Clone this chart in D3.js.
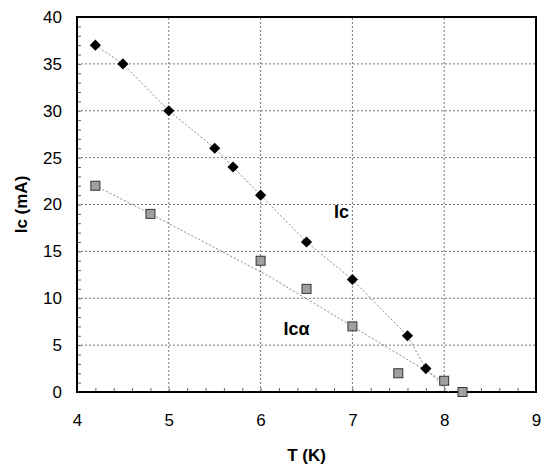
<!DOCTYPE html>
<html>
<head>
<meta charset="utf-8">
<script src="https://cdn.jsdelivr.net/npm/d3@7"></script>
<style>
  body { margin: 0; background: #fff; }
  svg { font-family: "Liberation Sans", Arial, sans-serif; }
</style>
</head>
<body>
<div id="chart"></div>
<script>
// Ic data (black diamonds)
const icT = [4.2, 4.5, 5, 5.5, 5.7, 6, 6.5, 7, 7.6, 7.8]
const icVal = [37, 35, 30, 26, 24, 21, 16, 12, 6, 2.5]
// Ic-alpha data (gray squares)
const icaT = [4.2, 4.8, 6, 6.5, 7, 7.5, 8, 8.2]
const icaVal = [22, 19, 14, 11, 7, 2, 1.2, 0]
// dotted guide lines, vertices
const icTrend = [[4.2, 37], [4.5, 35], [5, 30], [5.5, 26], [5.7, 24], [6, 21], [6.5, 16], [7, 12], [7.6, 6], [7.8, 2.5], [8.05, 0]]
const icaTrend = [[4.2, 22], [4.8, 19], [6.1, 12.3], [7, 7], [8.05, 0.8]]
const xTicks = [4, 5, 6, 7, 8, 9]
const yTicks = [0, 5, 10, 15, 20, 25, 30, 35, 40]

const width = 542, height = 468
const margin = { top: 17, right: 6, bottom: 76, left: 77 }

const svg = d3.select("#chart").append("svg")
    .attr("width", width)
    .attr("height", height)

const x = d3.scaleLinear().domain([4, 9]).range([margin.left, width - margin.right])
const y = d3.scaleLinear().domain([0, 40]).range([height - margin.bottom, margin.top])

// grid
svg.append("g")
    .selectAll("line")
    .data(xTicks.slice(1, -1))
    .join("line")
    .attr("x1", d => x(d)).attr("x2", d => x(d))
    .attr("y1", y(0)).attr("y2", y(40))
    .attr("stroke", "#777").attr("stroke-width", 1)
    .attr("stroke-dasharray", "2,2")
svg.append("g")
    .selectAll("line")
    .data(yTicks.slice(1, -1))
    .join("line")
    .attr("x1", x(4)).attr("x2", x(9))
    .attr("y1", d => y(d)).attr("y2", d => y(d))
    .attr("stroke", "#777").attr("stroke-width", 1)
    .attr("stroke-dasharray", "2,2")

// minor ticks inside
svg.append("g")
    .attr("transform", `translate(0,${y(0)})`)
    .call(d3.axisTop(x).ticks(25).tickSize(4).tickFormat(""))
    .call(g => g.select(".domain").remove())
    .call(g => g.selectAll(".tick line").attr("stroke", "#666"))
svg.append("g")
    .attr("transform", `translate(${x(4)},0)`)
    .call(d3.axisRight(y).ticks(40).tickSize(4).tickFormat(""))
    .call(g => g.select(".domain").remove())
    .call(g => g.selectAll(".tick line").attr("stroke", "#666"))

// tick labels
svg.append("g")
    .attr("transform", `translate(0,${y(0)})`)
    .call(d3.axisBottom(x).tickValues(xTicks).tickFormat(d3.format("d")).tickSize(0).tickPadding(22))
    .call(g => g.select(".domain").remove())
    .call(g => g.selectAll("text").attr("font-size", 17).attr("font-family", "Liberation Sans, Arial").attr("fill", "#000"))
svg.append("g")
    .attr("transform", `translate(${x(4)},0)`)
    .call(d3.axisLeft(y).tickValues(yTicks).tickFormat(d3.format("d")).tickSize(0).tickPadding(15))
    .call(g => g.select(".domain").remove())
    .call(g => g.selectAll("text").attr("font-size", 17).attr("font-family", "Liberation Sans, Arial").attr("fill", "#000"))

// frame
svg.append("rect")
    .attr("x", x(4)).attr("y", y(40))
    .attr("width", x(9) - x(4)).attr("height", y(0) - y(40))
    .attr("fill", "none").attr("stroke", "#000").attr("stroke-width", 2)

// guide lines
const line = d3.line().x(d => x(d[0])).y(d => y(d[1]))
svg.append("path").datum(icTrend).attr("d", line)
    .attr("fill", "none").attr("stroke", "#888").attr("stroke-width", 1)
    .attr("stroke-dasharray", "2,2")
svg.append("path").datum(icaTrend).attr("d", line)
    .attr("fill", "none").attr("stroke", "#888").attr("stroke-width", 1)
    .attr("stroke-dasharray", "2,2")

// markers
svg.append("g").selectAll("path")
    .data(d3.zip(icT, icVal))
    .join("path")
    .attr("d", d3.symbol(d3.symbolDiamond2, 80))
    .attr("transform", d => `translate(${x(d[0])},${y(d[1])})`)
    .attr("fill", "#000")

svg.append("g").selectAll("rect")
    .data(d3.zip(icaT, icaVal))
    .join("rect")
    .attr("x", d => x(d[0]) - 4.5).attr("y", d => y(d[1]) - 4.5)
    .attr("width", 9).attr("height", 9)
    .attr("fill", "#a0a0a0").attr("stroke", "#333").attr("stroke-width", 1)

// series labels
svg.append("text").attr("x", x(6.8)).attr("y", y(18.6))
    .attr("font-size", 18).attr("font-weight", "bold").text("Ic")
svg.append("text").attr("x", x(6.25)).attr("y", y(6.1))
    .attr("font-size", 18).attr("font-weight", "bold").text("Icα")

// axis titles
svg.append("text")
    .attr("x", (x(4) + x(9)) / 2).attr("y", 461)
    .attr("text-anchor", "middle")
    .attr("font-size", 17).attr("font-weight", "bold").text("T (K)")
svg.append("text")
    .attr("transform", `translate(27,${(y(0) + y(40)) / 2}) rotate(-90)`)
    .attr("text-anchor", "middle")
    .attr("font-size", 17).attr("font-weight", "bold").text("Ic (mA)")
</script>
</body>
</html>
